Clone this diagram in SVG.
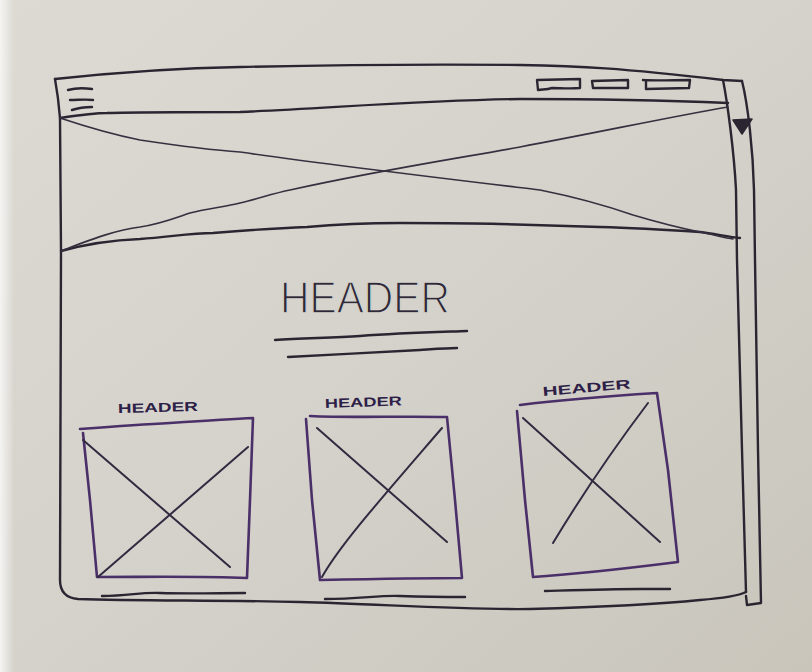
<svg xmlns="http://www.w3.org/2000/svg" width="812" height="672" viewBox="0 0 812 672">
<defs>
<linearGradient id="paper" x1="0" y1="0" x2="1" y2="1">
<stop offset="0" stop-color="#dcdad3"/>
<stop offset="0.5" stop-color="#d4d2cb"/>
<stop offset="1" stop-color="#c9c5bb"/>
</linearGradient>
<linearGradient id="edge" x1="0" y1="0" x2="1" y2="0">
<stop offset="0" stop-color="#f4f4f2"/>
<stop offset="1" stop-color="#f4f4f2" stop-opacity="0"/>
</linearGradient>
<style>
.ink{fill:none;stroke:#2b2532;stroke-width:2.4;stroke-linecap:round;stroke-linejoin:round}
.thin{fill:none;stroke:#35303f;stroke-width:1.7;stroke-linecap:round}
.card{fill:none;stroke:#4a2f68;stroke-width:2.6;stroke-linecap:round;stroke-linejoin:round}
.diag{fill:none;stroke:#322a40;stroke-width:2;stroke-linecap:round}
.small{font-family:"Liberation Sans",Arial,sans-serif;font-weight:bold;font-size:13px;fill:#2e1f48}
.big{font-family:"Liberation Sans",Arial,sans-serif;font-size:44px;fill:#2e2838;stroke:#d5d3cc;stroke-width:1.4}
</style>
</defs>
<rect width="812" height="672" fill="url(#paper)"/>
<rect width="14" height="672" fill="url(#edge)"/>

<g id="frame">
<path class="ink" d="M55,79 C120,72 180,68 240,67 C330,65 430,64 520,65 C580,66 620,68 723,80 L742,81"/>
<path class="ink" d="M55,79 C57,90 59,105 60,118 L61,251 L60,580 C60,592 66,598 78,599 C140,601 220,600 300,602 C380,604 460,610 530,609 C600,607 650,605 700,600 C725,598 738,596 746,592"/>
<path class="ink" d="M723,80 C727,100 734,150 736,190 L737,260 L742,450 L746,592"/>
<path class="ink" d="M742,81 C748,105 753,150 754,190 L755,260 L758,450 L761,603 L747,605 L746,596"/>
<path d="M733,120 L752,119 L742,134 Z" fill="#2b2532" stroke="#2b2532" stroke-width="1.5" stroke-linejoin="round"/>
</g>

<g id="navbar">
<path class="ink" d="M60,118 C80,115 95,113 107,113 C140,112 200,112 240,112 C330,108 430,100 520,99 C600,99 680,101 728,103"/>
<path class="ink" d="M68,90 C75,88 85,88 92,89"/>
<path class="ink" d="M70,100 C78,100 86,99 93,100"/>
<path class="ink" d="M72,110 C78,108 86,107 92,107"/>
<path class="ink" d="M537,80 L580,79 L580,88 C570,89 560,88 552,88 C546,90 542,89 538,90 Z"/>
<path class="ink" d="M592,81 L628,80 L628,88 L593,88 Z"/>
<path class="ink" d="M643,80 C655,81 675,80 690,80 L689,88 L646,89 L646,82"/>
</g>

<g id="hero">
<path class="ink" d="M61,251 C90,243 115,240 140,239 C170,237 190,233 213,233 C250,230 280,228 307,227 C340,224 370,223 400,223 C440,223 470,223 500,224 C540,225 570,226 600,227 C640,228 670,230 700,232 C715,234 730,237 740,238"/>
<path class="thin" d="M61,251 C90,240 115,230 140,227 C160,224 175,218 190,213 C210,208 225,207 240,203 C260,198 275,193 290,190 C380,170 460,158 520,147 C600,132 680,115 728,107"/>
<path class="thin" d="M60,118 C90,128 115,135 140,140 C180,146 210,150 240,152 C330,165 440,178 540,190 C580,198 610,207 633,215 C660,223 685,229 700,232 C715,235 725,238 733,239"/>
</g>

<g id="title">
<text class="big" x="280" y="313" textLength="170" lengthAdjust="spacingAndGlyphs">HEADER</text>
<path class="ink" d="M275,340 C300,338 330,338 360,336 C400,333 440,332 467,331"/>
<path class="ink" d="M288,357 C330,355 380,352 420,350 C435,349 448,348 457,348"/>
</g>

<g id="card1">
<text class="small" x="118" y="413" textLength="80" lengthAdjust="spacingAndGlyphs" transform="rotate(-1.5 118 413)">HEADER</text>
<path class="card" d="M80,429 C120,426 150,424 170,423 C200,421 230,419 253,418 L250,500 L247,578 C200,576 150,577 97,577 L90,500 L83,433"/>
<path class="diag" d="M83,440 L230,567"/>
<path class="diag" d="M98,577 L248,447"/>
<path class="ink" d="M102,596 C130,596 140,592 160,593 C190,594 220,593 245,593"/>
</g>

<g id="card2">
<text class="small" x="325" y="408" textLength="77" lengthAdjust="spacingAndGlyphs" transform="rotate(-2 325 408)">HEADER</text>
<path class="card" d="M310,416 C350,418 400,416 447,417 L455,500 L462,578 C420,578 370,579 320,580 L312,500 L306,419"/>
<path class="diag" d="M317,428 L447,542"/>
<path class="diag" d="M322,577 C340,545 380,500 442,428"/>
<path class="ink" d="M325,599 C360,599 380,595 400,596 C430,597 450,597 465,597"/>
</g>

<g id="card3">
<text class="small" x="543" y="396" textLength="88" lengthAdjust="spacingAndGlyphs" transform="rotate(-5 543 396)">HEADER</text>
<path class="card" d="M520,405 C560,400 610,396 657,393 L668,470 L678,562 C630,568 580,574 533,577 L525,500 L517,411"/>
<path class="diag" d="M523,418 L660,542"/>
<path class="diag" d="M553,543 C585,490 620,440 648,403"/>
<path class="ink" d="M545,591 C580,590 610,589 640,589 C655,589 665,589 670,589"/>
</g>
</svg>
